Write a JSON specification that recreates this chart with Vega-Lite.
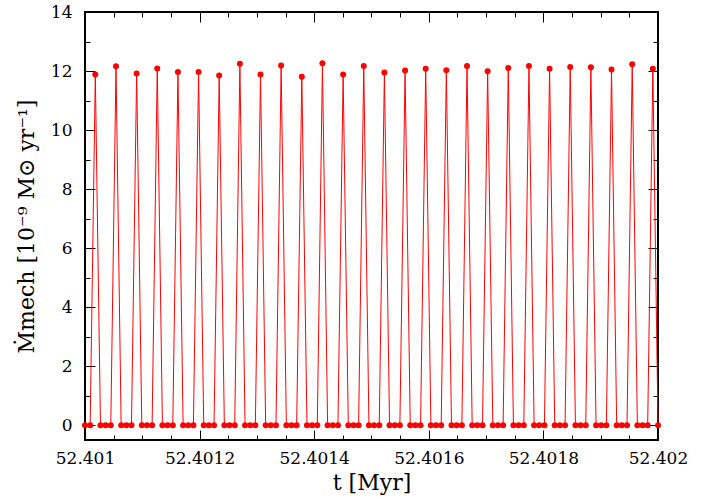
{
  "$schema": "https://vega.github.io/schema/vega-lite/v6.json",
  "autosize": {"type": "none"},
  "width": 573,
  "height": 428,
  "padding": {"left": 85, "top": 12, "right": 67, "bottom": 59},
  "background": "white",
  "config": {
    "view": {"stroke": "#000000", "strokeWidth": 2},
    "axis": {
      "labelFont": "DejaVu Serif",
      "labelFontSize": 17,
      "labelColor": "#000000",
      "titleFont": "DejaVu Serif",
      "titleFontSize": 22,
      "titleFontWeight": "normal",
      "titleColor": "#000000",
      "tickColor": "#000000",
      "tickWidth": 1,
      "domain": false,
      "grid": false
    }
  },
  "datasets": {
    "d": [
      {"t": 52.401, "m": 0},
      {"t": 52.401009, "m": 0},
      {"t": 52.401018, "m": 11.88},
      {"t": 52.401027, "m": 0},
      {"t": 52.401036, "m": 0},
      {"t": 52.401045, "m": 0},
      {"t": 52.4010541, "m": 12.16},
      {"t": 52.4010631, "m": 0},
      {"t": 52.4010721, "m": 0},
      {"t": 52.4010811, "m": 0},
      {"t": 52.4010901, "m": 11.92},
      {"t": 52.4010991, "m": 0},
      {"t": 52.4011081, "m": 0},
      {"t": 52.4011171, "m": 0},
      {"t": 52.4011261, "m": 12.09},
      {"t": 52.4011351, "m": 0},
      {"t": 52.4011441, "m": 0},
      {"t": 52.4011532, "m": 0},
      {"t": 52.4011622, "m": 11.97},
      {"t": 52.4011712, "m": 0},
      {"t": 52.4011802, "m": 0},
      {"t": 52.4011892, "m": 0},
      {"t": 52.4011982, "m": 11.97},
      {"t": 52.4012072, "m": 0},
      {"t": 52.4012162, "m": 0},
      {"t": 52.4012252, "m": 0},
      {"t": 52.4012342, "m": 11.85},
      {"t": 52.4012432, "m": 0},
      {"t": 52.4012523, "m": 0},
      {"t": 52.4012613, "m": 0},
      {"t": 52.4012703, "m": 12.25},
      {"t": 52.4012793, "m": 0},
      {"t": 52.4012883, "m": 0},
      {"t": 52.4012973, "m": 0},
      {"t": 52.4013063, "m": 11.88},
      {"t": 52.4013153, "m": 0},
      {"t": 52.4013243, "m": 0},
      {"t": 52.4013333, "m": 0},
      {"t": 52.4013423, "m": 12.19},
      {"t": 52.4013514, "m": 0},
      {"t": 52.4013604, "m": 0},
      {"t": 52.4013694, "m": 0},
      {"t": 52.4013784, "m": 11.81},
      {"t": 52.4013874, "m": 0},
      {"t": 52.4013964, "m": 0},
      {"t": 52.4014054, "m": 0},
      {"t": 52.4014144, "m": 12.26},
      {"t": 52.4014234, "m": 0},
      {"t": 52.4014324, "m": 0},
      {"t": 52.4014414, "m": 0},
      {"t": 52.4014505, "m": 11.88},
      {"t": 52.4014595, "m": 0},
      {"t": 52.4014685, "m": 0},
      {"t": 52.4014775, "m": 0},
      {"t": 52.4014865, "m": 12.17},
      {"t": 52.4014955, "m": 0},
      {"t": 52.4015045, "m": 0},
      {"t": 52.4015135, "m": 0},
      {"t": 52.4015225, "m": 11.95},
      {"t": 52.4015315, "m": 0},
      {"t": 52.4015405, "m": 0},
      {"t": 52.4015495, "m": 0},
      {"t": 52.4015586, "m": 12.02},
      {"t": 52.4015676, "m": 0},
      {"t": 52.4015766, "m": 0},
      {"t": 52.4015856, "m": 0},
      {"t": 52.4015946, "m": 12.08},
      {"t": 52.4016036, "m": 0},
      {"t": 52.4016126, "m": 0},
      {"t": 52.4016216, "m": 0},
      {"t": 52.4016306, "m": 12.03},
      {"t": 52.4016396, "m": 0},
      {"t": 52.4016486, "m": 0},
      {"t": 52.4016577, "m": 0},
      {"t": 52.4016667, "m": 12.17},
      {"t": 52.4016757, "m": 0},
      {"t": 52.4016847, "m": 0},
      {"t": 52.4016937, "m": 0},
      {"t": 52.4017027, "m": 11.99},
      {"t": 52.4017117, "m": 0},
      {"t": 52.4017207, "m": 0},
      {"t": 52.4017297, "m": 0},
      {"t": 52.4017387, "m": 12.10},
      {"t": 52.4017477, "m": 0},
      {"t": 52.4017568, "m": 0},
      {"t": 52.4017658, "m": 0},
      {"t": 52.4017748, "m": 12.17},
      {"t": 52.4017838, "m": 0},
      {"t": 52.4017928, "m": 0},
      {"t": 52.4018018, "m": 0},
      {"t": 52.4018108, "m": 12.08},
      {"t": 52.4018198, "m": 0},
      {"t": 52.4018288, "m": 0},
      {"t": 52.4018378, "m": 0},
      {"t": 52.4018468, "m": 12.14},
      {"t": 52.4018559, "m": 0},
      {"t": 52.4018649, "m": 0},
      {"t": 52.4018739, "m": 0},
      {"t": 52.4018829, "m": 12.13},
      {"t": 52.4018919, "m": 0},
      {"t": 52.4019009, "m": 0},
      {"t": 52.4019099, "m": 0},
      {"t": 52.4019189, "m": 12.05},
      {"t": 52.4019279, "m": 0},
      {"t": 52.4019369, "m": 0},
      {"t": 52.4019459, "m": 0},
      {"t": 52.401955, "m": 12.23},
      {"t": 52.401964, "m": 0},
      {"t": 52.401973, "m": 0},
      {"t": 52.401982, "m": 0},
      {"t": 52.401991, "m": 12.08},
      {"t": 52.402, "m": 0}
    ]
  },
  "data": {"name": "d"},
  "resolve": {"axis": {"x": "independent", "y": "independent"}},
  "layer": [
    {
      "mark": {"type": "line", "color": "#ff0000", "strokeWidth": 1, "clip": false},
      "encoding": {
        "x": {"field": "t", "type": "quantitative",
          "scale": {"domain": [52.401, 52.402], "nice": false, "zero": false},
          "axis": {"orient": "bottom", "values": [52.401, 52.4012, 52.4014, 52.4016, 52.4018, 52.402],
            "format": ".6~g", "tickSize": -10, "labelPadding": 20, "title": "t [Myr]", "titlePadding": 6, "labelFlush": false}},
        "y": {"field": "m", "type": "quantitative",
          "scale": {"domain": [-0.5, 14], "nice": false, "zero": false},
          "axis": {"orient": "left", "values": [0, 2, 4, 6, 8, 10, 12, 14],
            "tickSize": -10, "labelPadding": 23, "title": "Ṁmech [10⁻⁹ M⊙ yr⁻¹]", "titlePadding": 12}}
      }
    },
    {
      "mark": {"type": "point", "filled": true, "color": "#ff0000", "size": 36, "opacity": 1, "clip": false},
      "encoding": {
        "x": {"field": "t", "type": "quantitative",
          "scale": {"domain": [52.401, 52.402], "nice": false, "zero": false},
          "axis": {"orient": "top", "values": [52.401, 52.4012, 52.4014, 52.4016, 52.4018, 52.402],
            "tickSize": -10, "labels": false, "title": null}},
        "y": {"field": "m", "type": "quantitative",
          "scale": {"domain": [-0.5, 14], "nice": false, "zero": false},
          "axis": {"orient": "right", "values": [0, 2, 4, 6, 8, 10, 12, 14],
            "tickSize": -10, "labels": false, "title": null}}
      }
    },
    {
      "mark": {"type": "point", "opacity": 0},
      "encoding": {
        "x": {"field": "t", "type": "quantitative",
          "scale": {"domain": [52.401, 52.402], "nice": false, "zero": false},
          "axis": {"orient": "bottom", "values": [52.40105, 52.4011, 52.40115, 52.40125, 52.4013, 52.40135, 52.40145, 52.4015, 52.40155, 52.40165, 52.4017, 52.40175, 52.40185, 52.4019, 52.40195],
            "tickSize": -5, "labels": false, "title": null}},
        "y": {"field": "m", "type": "quantitative",
          "scale": {"domain": [-0.5, 14], "nice": false, "zero": false},
          "axis": {"orient": "left", "values": [1, 3, 5, 7, 9, 11, 13],
            "tickSize": -5, "labels": false, "title": null}}
      }
    },
    {
      "mark": {"type": "point", "opacity": 0},
      "encoding": {
        "x": {"field": "t", "type": "quantitative",
          "scale": {"domain": [52.401, 52.402], "nice": false, "zero": false},
          "axis": {"orient": "top", "values": [52.40105, 52.4011, 52.40115, 52.40125, 52.4013, 52.40135, 52.40145, 52.4015, 52.40155, 52.40165, 52.4017, 52.40175, 52.40185, 52.4019, 52.40195],
            "tickSize": -5, "labels": false, "title": null}},
        "y": {"field": "m", "type": "quantitative",
          "scale": {"domain": [-0.5, 14], "nice": false, "zero": false},
          "axis": {"orient": "right", "values": [1, 3, 5, 7, 9, 11, 13],
            "tickSize": -5, "labels": false, "title": null}}
      }
    }
  ]
}
